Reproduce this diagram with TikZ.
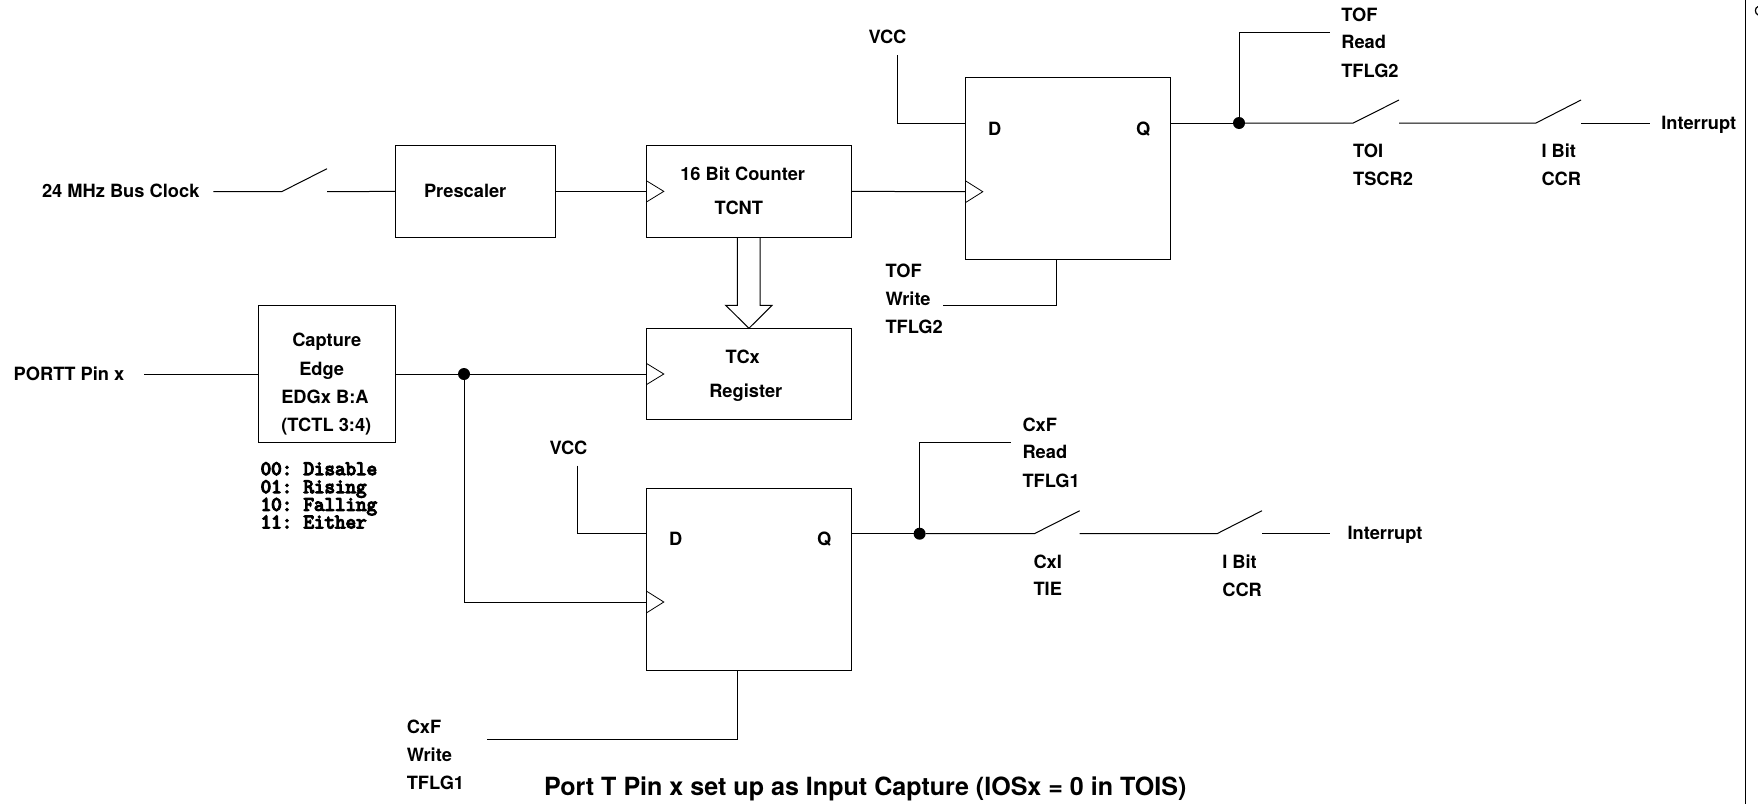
\documentclass[tikz,border=0pt]{standalone}
\usepackage{fontspec}
\setmainfont{TeX Gyre Heros}
\newfontfamily\heavymono[FakeBold=6]{Latin Modern Mono}
\usetikzlibrary{calc}
\tikzset{
  wire/.style={line width=0.75pt,black,line cap=butt,line join=miter},
  blk/.style={draw,line width=0.75pt,anchor=north west,inner sep=0pt,outer sep=0pt},
  lab/.style={anchor=base west,inner sep=0pt,outer sep=0pt,font=\fontsize{13.7}{16}\selectfont\bfseries},
  monolab/.style={anchor=base west,inner sep=0pt,outer sep=0pt,font=\fontsize{15.3}{16}\selectfont\heavymono},
  titlelab/.style={anchor=base west,inner sep=0pt,outer sep=0pt,font=\fontsize{18.8}{20}\selectfont\bfseries},
  dot/.style={circle,fill=black,draw=none,minimum size=9pt,inner sep=0pt,outer sep=0pt},
}
\begin{document}
\begin{tikzpicture}[x=0.75pt,y=-0.75pt]
\useasboundingbox (0,0) rectangle (1758,804);
\clip (0,0) rectangle (1758,804);
% blocks
\node[blk,minimum width=119.9pt,minimum height=68.5pt] (pre) at (395.2,145.7) {};
\node[blk,minimum width=154pt,minimum height=68.5pt] (cnt) at (646.3,145.7) {};
\node[blk,minimum width=154pt,minimum height=68.3pt] (tcx) at (646.3,328.3) {};
\node[blk,minimum width=154pt,minimum height=137pt] (ff1) at (965.3,77.3) {};
\node[blk,minimum width=154pt,minimum height=136.8pt] (ff2) at (646.3,488) {};
\node[blk,minimum width=103pt,minimum height=102.8pt] (cap) at (258.3,305.3) {};
% right margin rule and the fragment cut by the edge
\coordinate (ruleT) at (1745.7,0);
\coordinate (ruleB) at (1745.7,804);
\draw[wire] (ruleT) -- (ruleB);
\coordinate (fragT) at (1758,6.5);
\coordinate (fragB) at (1758,15);
\draw[wire,line width=0.9pt] (fragT) .. controls (1754.5,8) and (1754.5,13) .. (fragB);
% points
\coordinate (clkA) at (213.4,191.7);
\coordinate (swAa) at (281.6,191.7);
\coordinate (swAb) at (327,168.7);
\coordinate (swAc) at (327,191.7);
\coordinate (ff1clk) at (965.3,191.7);
\coordinate (ff1d) at (965.3,123);
\coordinate (ff1q) at (1170.7,123);
\coordinate (vcc1) at (897,55);
\coordinate (rd1) at (1330.3,32);
\coordinate (wr1) at (942.7,305);
\coordinate (wr1c) at (1056.7,305);
\coordinate (ff1b) at (1056.7,260);
\coordinate (swBa) at (1353.3,123);
\coordinate (swBb) at (1399,100);
\coordinate (swBc) at (1399,123);
\coordinate (swCa) at (1536,123);
\coordinate (swCb) at (1581,100);
\coordinate (swCc) at (1581,123);
\coordinate (int1) at (1650,123);
\coordinate (pin) at (144.4,374);
\coordinate (capE) at (395.7,374);
\coordinate (tcxclk) at (646.3,374);
\coordinate (ff2clk) at (646.3,602);
\coordinate (ff2d) at (646.3,533.7);
\coordinate (ff2q) at (851.8,533.7);
\coordinate (vcc2) at (577.9,465.7);
\coordinate (rd2) at (1011,442.3);
\coordinate (ff2b) at (737.5,670.3);
\coordinate (wr2c) at (737.5,739);
\coordinate (wr2) at (487,739);
\coordinate (swDa) at (1034.3,533.7);
\coordinate (swDb) at (1079.7,510.7);
\coordinate (swDc) at (1079.7,533.7);
\coordinate (swEa) at (1217,533.7);
\coordinate (swEb) at (1262,510.7);
\coordinate (swEc) at (1262,533.7);
\coordinate (int2) at (1330,533.7);
% dots
\node[dot] (j1) at (1239,123) {};
\node[dot] (j2) at (464,374) {};
\node[dot] (j3) at (919.6,533.7) {};
% top row
\draw[wire] (clkA) -- (swAa) -- (swAb);
\draw[wire] (swAc) -- (pre.west);
\draw[wire] (pre.east) -- (cnt.west);
\draw[wire] (cnt.east) -- (ff1clk);
\draw[wire] (vcc1) |- (ff1d);
\draw[wire] (ff1q) -- (j1);
\draw[wire] (j1) |- (rd1);
\draw[wire] (j1) -- (swBa) -- (swBb);
\draw[wire] (swBc) -- (swCa) -- (swCb);
\draw[wire] (swCc) -- (int1);
\draw[wire] (ff1b) -- (wr1c) -- (wr1);
% middle
\draw[wire] (pin) -- (cap.west |- pin);
\draw[wire] (capE) -- (j2);
\draw[wire] (j2) -- (tcxclk);
\draw[wire] (j2) |- (ff2clk);
% lower
\draw[wire] (vcc2) |- (ff2d);
\draw[wire] (ff2q) -- (j3);
\draw[wire] (j3) |- (rd2);
\draw[wire] (j3) -- (swDa) -- (swDb);
\draw[wire] (swDc) -- (swEa) -- (swEb);
\draw[wire] (swEc) -- (int2);
\draw[wire] (ff2b) -- (wr2c) -- (wr2);
% clock triangles
\draw[wire,line width=0.6pt] ($(cnt.west)+(0,-10.7)$) -- ++(17.5,10.7) -- ++(-17.5,10.7);
\draw[wire,line width=0.6pt] ($(tcxclk)+(0,-10.7)$) -- ++(17.5,10.7) -- ++(-17.5,10.7);
\draw[wire,line width=0.6pt] ($(ff1clk)+(0,-11)$) -- ++(17.5,11) -- ++(-17.5,11);
\draw[wire,line width=0.6pt] ($(ff2clk)+(0,-11)$) -- ++(17.5,11) -- ++(-17.5,11);
% bus arrow
\coordinate (busL) at (737.3,237);
\coordinate (busR) at (760,237);
\coordinate (busTip) at (tcx.north);
\draw[wire] (busL) -- (737.3,305.3) -- (725.7,305.3) -- (busTip) -- (772,305.3) -- (760,305.3) -- (busR);
% labels
\node[lab] (t1) at (42,197.3) {24 MHz Bus Clock};
\node[lab] (t2) at (424,197.3) {Prescaler};
\node[lab] (t3) at (680.3,180) {16 Bit Counter};
\node[lab] (t4) at (714.7,214) {TCNT};
\node[lab] (t5) at (868.5,43.7) {VCC};
\node[lab] (t6) at (988,135.7) {D};
\node[lab] (t7) at (1136.2,135.7) {Q};
\node[lab] (t8) at (885.5,277.3) {TOF};
\node[lab] (t9) at (885.5,305) {Write};
\node[lab] (t10) at (885.5,333) {TFLG2};
\node[lab] (t11) at (1341.3,21) {TOF};
\node[lab] (t12) at (1341.3,48.7) {Read};
\node[lab] (t13) at (1341.3,77) {TFLG2};
\node[lab] (t14) at (1353,157.3) {TOI};
\node[lab] (t15) at (1353,185.3) {TSCR2};
\node[lab] (t16) at (1541.5,157.3) {I Bit};
\node[lab] (t17) at (1541.5,185.3) {CCR};
\node[lab] (t18) at (1661.3,129.3) {Interrupt};
\node[lab] (t19) at (13.7,380) {PORTT Pin x};
\node[lab] (t20) at (292.3,346) {Capture};
\node[lab] (t21) at (299.3,375) {Edge};
\node[lab] (t22) at (281.3,403.3) {EDGx B:A};
\node[lab] (t23) at (281.3,431) {(TCTL 3:4)};
\node[lab] (t24) at (725.7,363.3) {TCx};
\node[lab] (t25) at (709.3,397.7) {Register};
\node[monolab] (m1) at (260.7,475) {00:\hspace{-2pt} Disable};
\node[monolab] (m2) at (260.7,493) {01:\hspace{-2pt} Rising};
\node[monolab] (m3) at (260.7,510.7) {10:\hspace{-2pt} Falling};
\node[monolab] (m4) at (260.7,528.3) {11:\hspace{-2pt} Either};
\node[lab] (t26) at (549.5,454.3) {VCC};
\node[lab] (t27) at (669,545.3) {D};
\node[lab] (t28) at (817,545.3) {Q};
\node[lab] (t29) at (1022.5,431) {CxF};
\node[lab] (t30) at (1022.5,458.3) {Read};
\node[lab] (t31) at (1022.5,487.3) {TFLG1};
\node[lab] (t32) at (1033.5,568.3) {CxI};
\node[lab] (t33) at (1033.5,595.5) {TIE};
\node[lab] (t34) at (1222.3,568.3) {I Bit};
\node[lab] (t35) at (1222.3,596) {CCR};
\node[lab] (t36) at (1347.5,539) {Interrupt};
\node[lab] (t37) at (406.8,733) {CxF};
\node[lab] (t38) at (406.8,761) {Write};
\node[lab] (t39) at (406.8,789.5) {TFLG1};
\node[titlelab] (t40) at (544,795.5) {Port T Pin x set up as Input Capture (IOSx = 0 in TOIS)};
\end{tikzpicture}
\end{document}
